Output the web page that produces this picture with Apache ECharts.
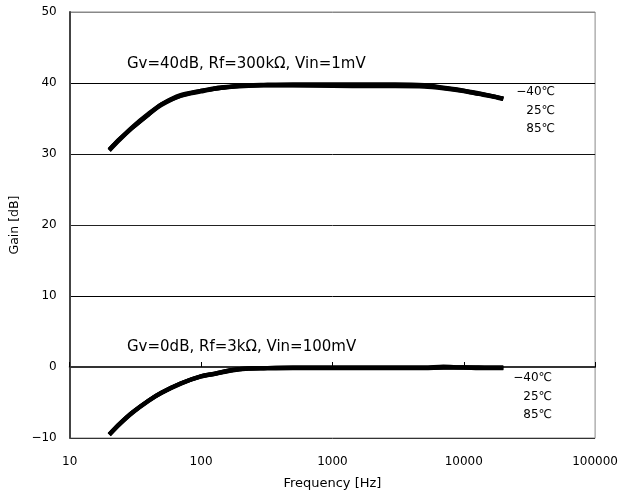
<!DOCTYPE html>
<html>
<head>
<meta charset="utf-8">
<script src="https://cdn.jsdelivr.net/npm/echarts@6/dist/echarts.min.js"></script>
<style>
  html, body { margin: 0; padding: 0; background: #fff; }
  #chart { width: 621px; height: 495px; }
</style>
</head>
<body>
<div id="chart"></div>
<script>
// Frequency points shared by every measured curve (Hz)
const freqHz = [20, 24, 30, 40, 50, 70, 100, 130, 170, 230, 300, 500, 1000, 2000, 3000, 5000, 7000, 10000, 13000, 16000, 20000];

// Gv = 40 dB setting (Rf = 300 kΩ, Vin = 1 mV), gain in dB per temperature
const gain40_m40 = [30.6, 32.1, 33.8, 35.7, 37.0, 38.3, 38.9, 39.3, 39.5, 39.7, 39.75, 39.8, 39.8, 39.8, 39.8, 39.7, 39.35, 38.95, 38.55, 38.2, 37.8];
const gain40_25  = [30.6, 32.1, 33.7, 35.6, 37.0, 38.2, 38.9, 39.2, 39.5, 39.65, 39.7, 39.7, 39.7, 39.65, 39.6, 39.6, 39.3, 38.9, 38.5, 38.2, 37.8];
const gain40_85  = [30.5, 32.0, 33.7, 35.6, 36.9, 38.2, 38.8, 39.2, 39.45, 39.6, 39.65, 39.65, 39.6, 39.55, 39.55, 39.5, 39.25, 38.85, 38.45, 38.15, 37.75];

// Gv = 0 dB setting (Rf = 3 kΩ, Vin = 100 mV), gain in dB per temperature
const gain0_m40 = [-9.5, -8.0, -6.4, -4.7, -3.6, -2.3, -1.3, -0.9, -0.45, -0.2, -0.15, -0.1, -0.1, -0.1, -0.1, -0.1, -0.05, -0.05, -0.1, -0.1, -0.1];
const gain0_25  = [-9.5, -8.0, -6.4, -4.7, -3.6, -2.3, -1.3, -0.9, -0.45, -0.2, -0.15, -0.1, -0.1, -0.1, -0.1, -0.1, 0.05, -0.05, -0.05, -0.1, -0.1];
const gain0_85  = [-9.55, -8.05, -6.45, -4.75, -3.65, -2.35, -1.35, -0.95, -0.5, -0.25, -0.2, -0.15, -0.15, -0.15, -0.15, -0.15, -0.1, -0.1, -0.15, -0.15, -0.15];

// Axis ticks
const freqTicks = [10, 100, 1000, 10000, 100000];
const gainTicks = [-10, 0, 10, 20, 30, 40, 50];

// Text drawn on the plot
const note40 = 'Gv=40dB, Rf=300kΩ, Vin=1mV';
const note0 = 'Gv=0dB, Rf=3kΩ, Vin=100mV';
const tempLabels = ['−40℃', '25℃', '85℃'];

const FONT = '"DejaVu Sans", "Liberation Sans", "Noto Sans CJK JP", sans-serif';

function curve(gains) {
  return {
    type: 'line',
    data: freqHz.map((f, i) => [f, gains[i]]),
    showSymbol: false,
    smooth: 0.3,
    lineStyle: { color: '#000', width: 4.2 },
    z: 5
  };
}

const chart = echarts.init(document.getElementById('chart'), null, { renderer: 'canvas' });

const tempText = (x, y) => tempLabels.map((t, i) => ({
  type: 'text',
  x: x, y: y + i * 18.5,
  style: { text: t, font: '12px ' + FONT, fill: '#000', align: 'right', verticalAlign: 'middle' }
}));

chart.setOption({
  animation: false,
  backgroundColor: '#fff',
  grid: {
    left: 69, right: 25, top: 12, bottom: 57,
    show: true, borderColor: '#888', borderWidth: 1, backgroundColor: 'transparent'
  },
  xAxis: {
    type: 'log',
    logBase: 10,
    min: freqTicks[0],
    max: freqTicks[freqTicks.length - 1],
    name: 'Frequency [Hz]',
    nameLocation: 'middle',
    nameGap: 39,
    nameTextStyle: { fontFamily: FONT, fontSize: 13, color: '#000' },
    axisLine: { show: true, lineStyle: { color: '#333', width: 2 } },
    axisTick: { show: true, inside: true, length: 5, lineStyle: { color: '#000', width: 1 } },
    minorTick: { show: false },
    splitLine: { show: false },
    axisLabel: {
      fontFamily: FONT, fontSize: 12, color: '#000', margin: 18,
      formatter: v => String(Math.round(v))
    }
  },
  yAxis: {
    type: 'value',
    min: gainTicks[0],
    max: gainTicks[gainTicks.length - 1],
    interval: 10,
    name: 'Gain [dB]',
    nameLocation: 'middle',
    nameGap: 41,
    nameTextStyle: { fontFamily: FONT, fontSize: 12.5, color: '#000' },
    axisLine: { show: true, lineStyle: { color: '#444', width: 2 } },
    axisTick: { show: false },
    splitLine: { show: true, lineStyle: { color: ['#333', '#000', '#000', '#222', '#111', '#000', '#888'], width: 1 } },
    axisLabel: {
      fontFamily: FONT, fontSize: 12, color: '#000', margin: 13,
      formatter: v => String(v).replace('-', '−')
    }
  },
  series: [
    curve(gain40_m40), curve(gain40_25), curve(gain40_85),
    curve(gain0_m40), curve(gain0_25), curve(gain0_85)
  ],
  graphic: [
    {
      type: 'text', x: 127, y: 64,
      style: { text: note40, font: '15px ' + FONT, fill: '#000', align: 'left', verticalAlign: 'middle' }
    },
    {
      type: 'text', x: 127, y: 347,
      style: { text: note0, font: '15px ' + FONT, fill: '#000', align: 'left', verticalAlign: 'middle' }
    },
    ...tempText(555, 92),
    ...tempText(552, 378)
  ]
});
</script>
</body>
</html>
